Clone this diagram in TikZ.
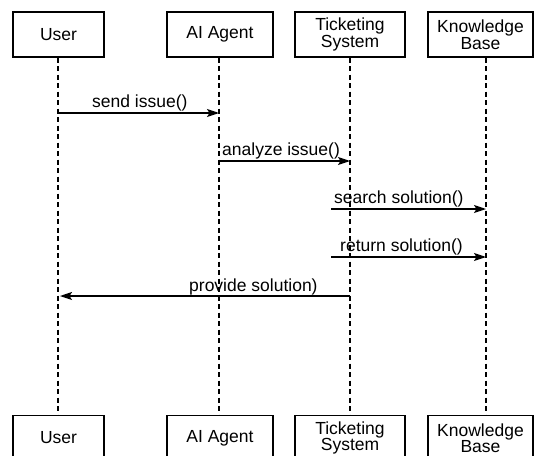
\documentclass[tikz,border=0pt]{standalone}
\usepackage{fontspec}
\setmainfont{Liberation Sans}
\usetikzlibrary{arrows.meta}
\begin{document}
\begin{tikzpicture}[x=1pt,y=-1pt,
  actor/.style={draw,line width=1.2pt,minimum height=45pt,inner sep=0pt,align=center,
    font=\fontsize{17.5}{16.5}\selectfont},
  lifeline/.style={line width=1.2pt,dash pattern=on 5pt off 3.5pt},
  msg/.style={line width=1.3pt,-{Stealth[length=12pt,width=8pt,inset=2.5pt]}},
  lbl/.style={inner sep=0pt,font=\fontsize{17.5}{20}\selectfont}]
\clip (0,0) rectangle (537,455);
\useasboundingbox (0,0) rectangle (537,455);
% top boxes
\node[actor,minimum width=91pt] (uT) at (58.5,34.5) {User};
\node[actor,minimum width=106pt] (aT) at (220,34.5) {AI Agent};
\node[actor,minimum width=110pt] (tT) at (350,34.5) {Ticketing\\System};
\node[actor,minimum width=105pt] (kT) at (480.5,34.5) {Knowledge\\Base};
% bottom boxes
\node[actor,minimum width=91pt] (uB) at (58.5,438) {User};
\node[actor,minimum width=106pt] (aB) at (220,438) {AI Agent};
\node[actor,minimum width=110pt] (tB) at (350,438) {Ticketing\\System};
\node[actor,minimum width=105pt] (kB) at (480.5,438) {Knowledge\\Base};
% lifeline x positions
\coordinate (uL) at (58,0);
\coordinate (aL) at (219,0);
\coordinate (tL) at (350,0);
\coordinate (kL) at (486,0);
\draw[lifeline] (uT.south -| uL) -- (uB.north -| uL);
\draw[lifeline] (aT.south -| aL) -- (aB.north -| aL);
\draw[lifeline] (tT.south -| tL) -- (tB.north -| tL);
\draw[lifeline] (kT.south -| kL) -- (kB.north -| kL);
% message end points
\coordinate (m1s) at (58,113);  \coordinate (m1e) at (219,113);
\coordinate (m2s) at (219,161); \coordinate (m2e) at (350,161);
\coordinate (m3s) at (331,209); \coordinate (m3e) at (486,209);
\coordinate (m4s) at (331,257); \coordinate (m4e) at (486,257);
\coordinate (m5s) at (350,296); \coordinate (m5e) at (60,296);
\draw[msg] (m1s) -- (m1e);
\draw[msg] (m2s) -- (m2e);
\draw[msg] (m3s) -- (m3e);
\draw[msg] (m4s) -- (m4e);
\draw[msg] (m5s) -- (m5e);
% labels
\node[lbl,anchor=base west] (l1) at (92,107.5) {send issue()};
\node[lbl,anchor=base west] (l2) at (222,155.5) {analyze issue()};
\node[lbl,anchor=base west] (l3) at (334,203.5) {search solution()};
\node[lbl,anchor=base west] (l4) at (340,251) {return solution()};
\node[lbl,anchor=base west] (l5) at (189,291.5) {provide solution)};
\end{tikzpicture}
\end{document}
